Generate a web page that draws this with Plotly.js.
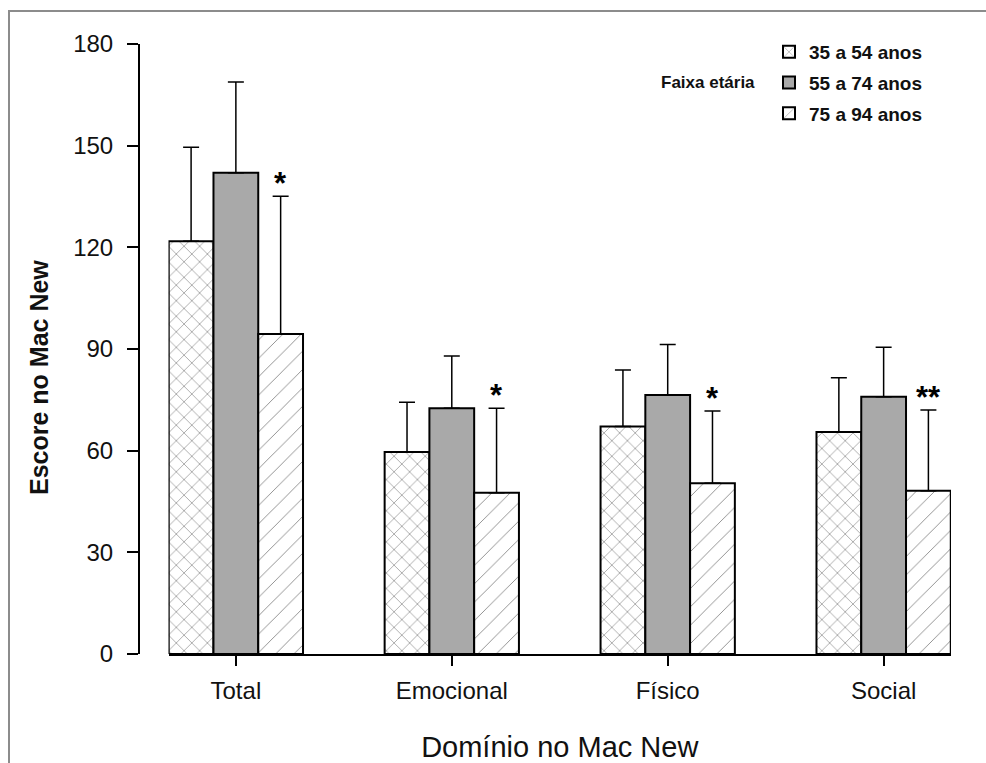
<!DOCTYPE html>
<html>
<head>
<meta charset="utf-8">
<script src="https://cdn.plot.ly/plotly-3.0.1.min.js"></script>
<style>
  html, body { margin: 0; padding: 0; background: #ffffff; }
  #wrap { position: relative; width: 986px; height: 763px; overflow: hidden; }
  #chart { width: 986px; height: 763px; }
  #frame { position: absolute; left: 8px; top: 10px; width: 1000px; height: 800px;
           border-top: 2px solid #8c8c8c; border-left: 2px solid #8c8c8c; pointer-events: none; }
</style>
</head>
<body>
<div id="wrap">
  <div id="chart"></div>
  <div id="frame"></div>
</div>
<script>
// Domains (categories)
const categories = ['Total', 'Emocional', 'Físico', 'Social'];
const seriesNames = ['35 a 54 anos', '55 a 74 anos', '75 a 94 anos'];

// Mean scores per age group
const age35 = [121.8, 59.6, 67.1, 65.5];
const age55 = [142.0, 72.5, 76.4, 75.9];
const age75 = [94.4, 47.6, 50.4, 48.2];

// Upper error (SD) per age group
const sd35 = [27.7, 14.7, 16.7, 16.0];
const sd55 = [26.8, 15.4, 14.9, 14.6];
const sd75 = [40.7, 24.9, 21.3, 23.8];

// Significance markers above the 75-94 group
const significance = ['*', '*', '*', '**'];

const yTicks = [0, 30, 60, 90, 120, 150, 180];

const FONT = 'Liberation Sans, Arial, sans-serif';
const BARGAP = 0.378;

function errUp(sd) {
  return { type: 'data', symmetric: false, array: sd, arrayminus: sd.map(() => 0),
           color: '#000000', thickness: 1.5, width: 8, visible: true };
}

const traces = [
  { type: 'bar', name: seriesNames[0], x: categories, y: age35, legendgroup: 'a',
    marker: { color: '#ffffff', line: { color: '#000000', width: 2 },
              pattern: { shape: 'x', fgcolor: '#707070', bgcolor: '#ffffff', size: 11, solidity: 0.1 } },
    error_y: errUp(sd35) },
  { type: 'bar', name: seriesNames[1], x: categories, y: age55, legendgroup: 'b',
    marker: { color: '#a9a9a9', line: { color: '#000000', width: 2 } },
    error_y: errUp(sd55) },
  { type: 'bar', name: seriesNames[2], x: categories, y: age75, legendgroup: 'c',
    marker: { color: '#ffffff', line: { color: '#000000', width: 2 },
              pattern: { shape: '/', fgcolor: '#8a8a8a', bgcolor: '#ffffff', size: 13, solidity: 0.07 } },
    error_y: errUp(sd75) }
];

const barW = (1 - BARGAP) / 3;
const annotations = significance.map((s, i) => ({
  x: i + barW, y: age75[i] + sd75[i], xref: 'x', yref: 'y',
  text: '<b>' + s + '</b>', showarrow: false, xanchor: 'center', yanchor: 'bottom',
  yshift: -7, font: { family: FONT, size: 31, color: '#000000' }
}));
annotations.push({
  xref: 'paper', yref: 'paper', x: (757 - 139) / 812, y: 1 - (83 - 44) / 610,
  xanchor: 'right', yanchor: 'middle', showarrow: false,
  text: '<b>Faixa etária</b>', font: { family: FONT, size: 17, color: '#111111' }
});
// y-axis title (placed as rotated text, slightly below the plot centre like the reference)
annotations.push({
  xref: 'paper', yref: 'paper', x: (39 - 139) / 812, y: 1 - (378 - 44) / 610,
  xanchor: 'center', yanchor: 'middle', showarrow: false, textangle: -90,
  text: '<b>Escore no Mac New</b>', font: { family: FONT, size: 25, color: '#111111' }
});

const layout = {
  width: 986, height: 763,
  margin: { l: 139, r: 35, t: 44, b: 109 },
  paper_bgcolor: '#ffffff', plot_bgcolor: '#ffffff',
  barmode: 'group', bargap: BARGAP, bargroupgap: 0,
  showlegend: true,
  legend: { x: (769 - 139) / 812, y: 1 - (33 - 44) / 610, xanchor: 'left', yanchor: 'top',
            traceorder: 'grouped', tracegroupgap: 3, bgcolor: 'rgba(0,0,0,0)',
            font: { family: FONT, size: 19, color: '#111111', weight: 'bold' } },
  xaxis: {
    type: 'category', domain: [29.5 / 812, 1], range: [-0.312, 3.312],
    showline: true, linecolor: '#000000', linewidth: 2, showgrid: false, zeroline: false,
    ticks: 'outside', ticklen: 10, tickwidth: 2, tickcolor: '#000000',
    ticklabelstandoff: 4,
    tickfont: { family: FONT, size: 24, color: '#111111' },
    title: { text: 'Domínio no Mac New', font: { family: FONT, size: 29, color: '#111111' }, standoff: 36 }
  },
  yaxis: {
    anchor: 'free', position: 0, range: [0, 180],
    tickmode: 'array', tickvals: yTicks, ticktext: yTicks.map(String),
    showline: true, linecolor: '#000000', linewidth: 2, showgrid: false, zeroline: false,
    ticks: 'outside', ticklen: 11, tickwidth: 2, tickcolor: '#000000',
    ticklabelstandoff: 9,
    tickfont: { family: FONT, size: 24, color: '#111111' }
  },
  annotations: annotations
};

Plotly.newPlot('chart', traces, layout, { displayModeBar: false, staticPlot: true });
</script>
</body>
</html>
